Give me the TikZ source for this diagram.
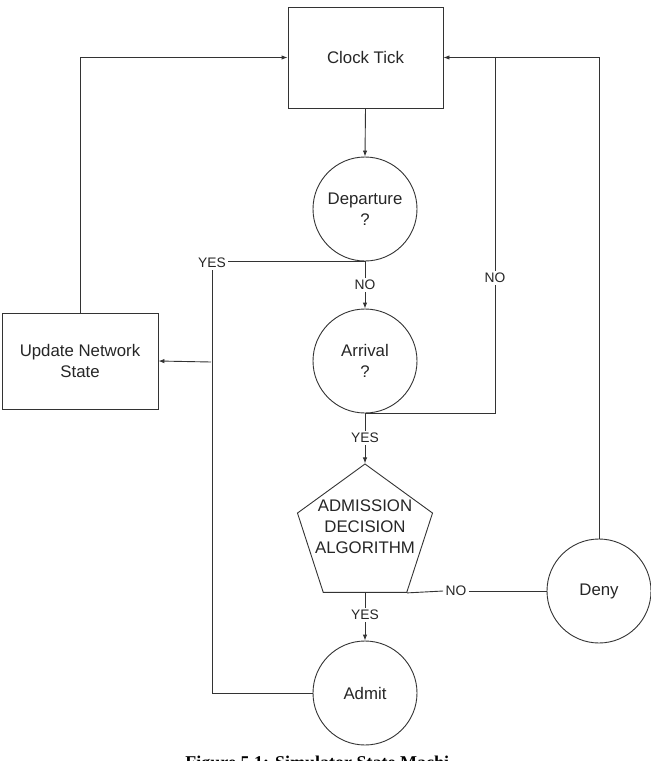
\documentclass[tikz,border=0pt]{standalone}
\usepackage{fontspec}
\setmainfont{Liberation Sans}
\newfontfamily\capfont{Liberation Serif}
\usetikzlibrary{arrows.meta,shapes.geometric}
\begin{document}
\begin{tikzpicture}[x=1pt,y=-1pt,
  line width=0.9pt, draw=black!80,
  every node/.style={font=\fontsize{16.8}{21}\selectfont, text=black!85},
  boxnode/.style={draw, rectangle, inner sep=0pt},
  statenode/.style={draw, circle, minimum size=104pt, inner sep=0pt, align=center},
  algnode/.style={draw, regular polygon, regular polygon sides=5, minimum size=142pt, inner sep=0pt},
  lbl/.style={font=\fontsize{13.8}{15}\selectfont, inner sep=2pt, fill=white},
  arr/.style={-{Latex[length=6pt,width=4.5pt]}}
]
\useasboundingbox (0,0) rectangle (651,761);
% nodes
\node[boxnode, minimum width=155pt, minimum height=101pt] (clock) at (365.5,57.5) {Clock Tick};
\node[boxnode, minimum width=156pt, minimum height=96pt, align=center] (update) at (80,361) {Update Network\\State};
\node[statenode] (dep) at (365,209) {Departure\\?};
\node[statenode] (arrv) at (365,361) {Arrival\\?};
\node[algnode] (alg) at (365,535) {};
\node[align=center] (algtext) at (365,527) {ADMISSION\\DECISION\\ALGORITHM};
\node[statenode] (deny) at (599,591) {Deny};
\node[statenode] (admit) at (365,693) {Admit};
% labels
\node[lbl] (yes1) at (212,263) {YES};
\node[lbl] (no1) at (365,285) {NO};
\node[lbl] (no2) at (495,278) {NO};
\node[lbl] (yes2) at (365,438) {YES};
\node[lbl] (no3) at (456,591) {NO};
\node[lbl] (yes3) at (365,615) {YES};
\coordinate (jn) at (211,362);
% connectors
\draw[arr] (clock.south) -- (dep.north);
\draw (dep.south) -- (dep.south -| yes1.east);
\draw (admit.west) -| (yes1.south);
\draw[arr] (jn) -- (update.east);
\draw[arr] (update.north) |- (clock.west);
\draw (dep.south) -- (no1.north);
\draw[arr] (no1.south) -- (arrv.north);
\draw (arrv.south) -| (no2.south);
\draw (no2.north) -- (no2.north |- clock.east);
\draw[arr] (deny.north) |- (clock.east);
\draw (arrv.south) -- (yes2.north);
\draw[arr] (yes2.south) -- (alg.north);
\draw (alg.corner 4) -- (no3.west);
\draw (no3.east) -- (deny.west);
\draw (alg.south) -- (yes3.north);
\draw[arr] (yes3.south) -- (admit.north);
% caption (cut by the page edge, as in the reference)
\node[anchor=base west, inner sep=0pt, font=\capfont\bfseries\fontsize{18}{20}\selectfont, text=black] (cap) at (185,768) {Figure 5.1: Simulator State Machi};
\end{tikzpicture}
\end{document}
